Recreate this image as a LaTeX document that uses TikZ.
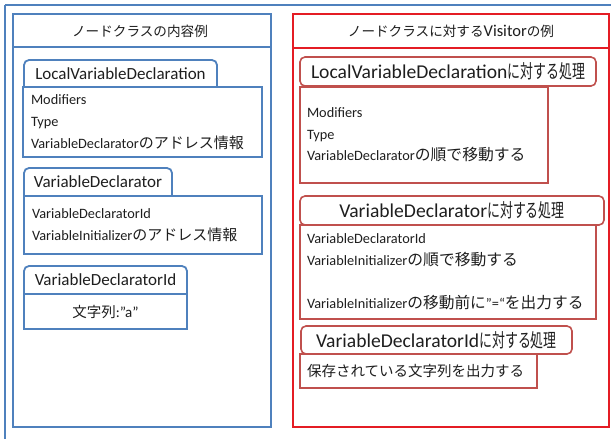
\documentclass[tikz,border=0pt]{standalone}
\usepackage{fontspec}
\setmainfont{Carlito}
\newfontfamily\jp{Noto Sans CJK JP}
\newfontfamily\jpc[FakeStretch=0.68]{Noto Sans CJK JP}
\newcommand\J[2]{{\jp\fontsize{#1}{#1}\selectfont #2}}
\newcommand\JC[2]{{\jpc\fontsize{#1}{#1}\selectfont #2}}
\definecolor{blu}{RGB}{79,129,189}
\definecolor{redp}{RGB}{228,28,36}
\definecolor{redb}{RGB}{192,80,77}
\definecolor{txt}{RGB}{30,30,30}
\tikzset{
  bline/.style={draw=blu, line width=1.8pt},
  rline/.style={draw=redp, line width=1.8pt},
  bbox/.style={draw=blu, line width=1.8pt, anchor=north west, inner sep=0pt, outer sep=0pt, text=txt},
  rbox/.style={draw=redb, line width=1.6pt, anchor=north west, inner sep=0pt, outer sep=0pt, text=txt},
  ltab/.style={anchor=north west, inner sep=0pt, outer sep=0pt, text=txt, font=\fontsize{17}{20}\selectfont},
  rtab/.style={rbox, rounded corners=5pt, font=\fontsize{19.6}{22}\selectfont},
  lbody/.style={bbox, align=left, inner xsep=8pt, font=\fontsize{14.3}{22}\selectfont},
  rbody/.style={rbox, align=left, inner xsep=7pt, font=\fontsize{14.3}{21.7}\selectfont},
  title/.style={inner sep=0pt, text=txt, font=\jp\fontsize{13.6}{17}\selectfont},
}
\begin{document}
\begin{tikzpicture}[x=1pt,y=-1pt]
\useasboundingbox (0,0) rectangle (611,439);
\fill[white] (0,0) rectangle (611,439);
% outer frame
\draw[bline] (5,5) -- (620,5);
\draw[bline] (5,5) -- (5,450);
% left panel
\node[bbox, minimum width=258pt, minimum height=413pt] (lpanel) at (13,14) {};
\draw[bline] (13,47) -- (271,47);
\node[title] (ltitle) at (140,31) {ノードクラスの内容例};
% right panel
\node[draw=redp, line width=1.8pt, anchor=north west, inner sep=0pt, outer sep=0pt, minimum width=316pt, minimum height=413pt] (rpanel) at (293,14) {};
\draw[rline] (293,48) -- (609,48);
\node[title] (rtitle) at (451,31) {ノードクラスに対する{\rmfamily\fontsize{16.5}{17}\selectfont Visitor}の例};

% left boxes
\node[ltab, minimum width=193pt, minimum height=27pt] (lt1) at (24,60) {LocalVariableDeclaration};
\draw[bline, rounded corners=5pt] (lt1.south west) -- (lt1.north west) -- (lt1.north east) -- (lt1.south east);
\node[lbody, minimum width=239pt, minimum height=70pt, text width=223pt] (lb1) at (23,87)
  {Modifiers\\Type\\VariableDeclarator\J{15}{のアドレス情報}};

\node[ltab, minimum width=148pt, minimum height=28pt] (lt2) at (24,168) {VariableDeclarator};
\draw[bline, rounded corners=5pt] (lt2.south west) -- (lt2.north west) -- (lt2.north east) -- (lt2.south east);
\node[lbody, minimum width=238pt, minimum height=58pt, text width=222pt] (lb2) at (24,196)
  {VariableDeclaratorId\\VariableInitializer\J{15}{のアドレス情報}};

\node[ltab, minimum width=163pt, minimum height=28pt] (lt3) at (24,266) {VariableDeclaratorId};
\draw[bline, rounded corners=5pt] (lt3.south west) -- (lt3.north west) -- (lt3.north east) -- (lt3.south east);
\node[bbox, minimum width=163pt, minimum height=35pt, font=\fontsize{15}{18}\selectfont] (lb3) at (24,294)
  {\J{14.5}{文字列}:”a”};

% right boxes
\node[rtab, minimum width=296pt, minimum height=29pt] (rt1) at (300,57)
  {LocalVariableDeclaration\JC{19}{に対する処理}};
\node[rbody, minimum width=248pt, minimum height=96pt, text width=234pt] (rb1) at (300,87)
  {Modifiers\\Type\\VariableDeclarator\J{15.8}{の順で移動する}};

\node[rtab, minimum width=304pt, minimum height=29pt] (rt2) at (300,196)
  {VariableDeclarator\JC{19}{に対する処理}};
\node[rbody, minimum width=296pt, minimum height=94pt, text width=282pt] (rb2) at (300,225)
  {VariableDeclaratorId\\VariableInitializer\J{15.8}{の順で移動する}\\[21.7pt]VariableInitializer\J{15.7}{の移動前に}”=“\J{15.7}{を出力する}};

\node[rtab, minimum width=271pt, minimum height=28pt] (rt3) at (301,326)
  {VariableDeclaratorId\JC{19}{に対する処理}};
\node[rbody, minimum width=237pt, minimum height=34pt, text width=223pt] (rb3) at (300,354)
  {\J{14.5}{保存されている文字列を出力する}};
\end{tikzpicture}
\end{document}
